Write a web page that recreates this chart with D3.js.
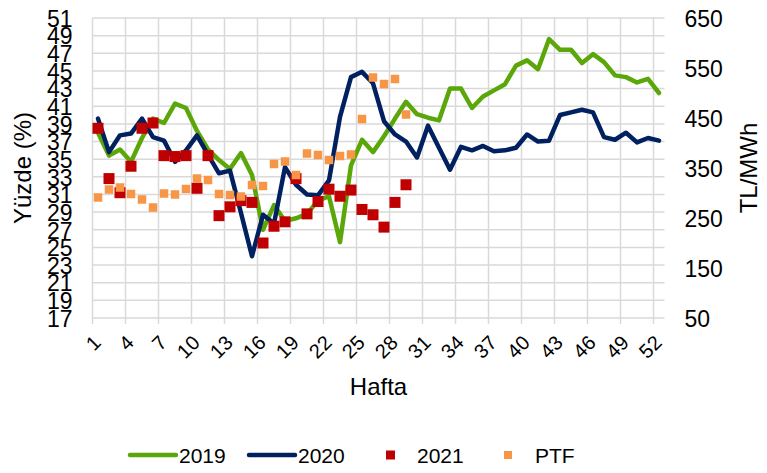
<!DOCTYPE html>
<html>
<head>
<meta charset="utf-8">
<script src="https://cdn.jsdelivr.net/npm/d3@7"></script>
<style>
    body { margin: 0; background: #ffffff; }
    text { font-family: "Liberation Sans", Arial, sans-serif; fill: #000000; }
</style>
</head>
<body>
<div id="chart"></div>
<script>

// data
// data

var weeks = d3.range(1, 53);

var values2019 = [38.0, 35.4, 36.1, 34.7, 37.4, 39.6, 39.1, 41.3, 40.8, 38.2,
                  36.1, 34.9, 33.9, 35.7, 33.2, 27.0, 29.8, 28.0, 28.3, 28.8,
                  30.3, 30.8, 25.6, 34.3, 37.2, 35.8, 37.6, 39.6, 41.5, 40.1,
                  39.7, 39.4, 43.0, 43.0, 40.8, 42.1, 42.8, 43.5, 45.6, 46.2,
                  45.2, 48.6, 47.4, 47.4, 45.9, 46.9, 46.0, 44.5, 44.3, 43.7,
                  44.1, 42.5];

var values2020 = [39.6, 35.8, 37.7, 37.9, 39.6, 37.5, 37.1, 34.7, 36.0, 37.7,
                  35.5, 33.4, 33.7, 28.9, 24.0, 28.7, 27.7, 34.1, 32.1, 31.0,
                  30.9, 32.6, 39.8, 44.3, 44.9, 43.6, 39.3, 37.8, 37.0, 35.2,
                  38.8, 36.3, 33.8, 36.4, 36.0, 36.5, 35.9, 36.0, 36.3, 37.8,
                  37.0, 37.1, 40.0, 40.3, 40.6, 40.3, 37.5, 37.2, 38.0, 36.9,
                  37.4, 37.1];

var values2021 = [38.5, 32.8, 31.2, 34.2, 38.5, 39.1, 35.4, 35.3, 35.4, 31.7,
                  35.4, 28.6, 29.6, 30.3, 30.1, 25.5, 27.4, 27.9, 32.8, 28.8,
                  30.2, 31.6, 30.8, 31.5, 29.3, 28.7, 27.3, 30.1, 32.1];

var valuesPTF = [291, 307, 311, 298, 287, 271, 299, 297, 308, 329,
                 326, 298, 296, 293, 316, 314, 358, 363, 336, 379,
                 376, 366, 374, 377, 448, 531, 518, 528, 457];

var leftTicks = d3.range(17, 52, 2);
var rightTicks = d3.range(50, 651, 100);
var weekTicks = d3.range(1, 53, 3);

var seriesNames = ["2019", "2020", "2021", "PTF"];
var colors = {"2019": "#5ba70a", "2020": "#002060", "2021": "#c00000", "PTF": "#f79646"};

// layout
// layout

var width = 767, height = 473;
var plot = {left: 92.5, right: 664.5, top: 18, bottom: 318};

var svg = d3.select("#chart").append("svg")
    .attr("width", width)
    .attr("height", height);

var x = d3.scaleBand()
    .domain(weeks)
    .range([plot.left, plot.right])
    .padding(0);

var yLeft = d3.scaleLinear().domain([17, 51]).range([plot.bottom, plot.top]);
var yRight = d3.scaleLinear().domain([50, 650]).range([plot.bottom, plot.top]);

function cx(w) { return x(w) + x.bandwidth() / 2; }

// gridlines
// gridlines

var grid = svg.append("g");

grid.selectAll("line.h")
    .data(leftTicks)
    .enter().append("line")
    .attr("x1", plot.left)
    .attr("x2", plot.right)
    .attr("y1", function(d) { return yLeft(d); })
    .attr("y2", function(d) { return yLeft(d); })
    .attr("stroke", "#d9d9d9")
    .attr("stroke-width", 1.5);

grid.selectAll("line.v")
    .data(weekTicks)
    .enter().append("line")
    .attr("x1", function(d) { return x(d); })
    .attr("x2", function(d) { return x(d); })
    .attr("y1", plot.top)
    .attr("y2", plot.bottom + 6)
    .attr("stroke", "#d9d9d9")
    .attr("stroke-width", 1.5);

// axes
// axes

var leftAxis = svg.append("g")
    .attr("transform", "translate(" + plot.left + ",0)")
    .call(d3.axisLeft(yLeft).tickValues(leftTicks).tickSize(0).tickPadding(20));
leftAxis.select(".domain").remove();
leftAxis.selectAll("text")
    .style("font-size", "23px")
    .attr("dy", "0.36em");

var rightAxis = svg.append("g")
    .attr("transform", "translate(" + plot.right + ",0)")
    .call(d3.axisRight(yRight).tickValues(rightTicks).tickSize(0).tickPadding(20));
rightAxis.select(".domain").remove();
rightAxis.selectAll("text")
    .style("font-size", "23px")
    .attr("dy", "0.36em");

svg.append("g")
    .selectAll("text")
    .data(weekTicks)
    .enter().append("text")
    .attr("transform", function(d) { return "translate(" + (cx(d) + 4) + ",344) rotate(-45)"; })
    .attr("text-anchor", "end")
    .style("font-size", "20px")
    .text(function(d) { return d; });

// axis titles
// axis titles

svg.append("text")
    .attr("transform", "translate(31," + ((plot.top + plot.bottom) / 2) + ") rotate(-90)")
    .attr("text-anchor", "middle")
    .style("font-size", "24px")
    .text("Yüzde (%)");

svg.append("text")
    .attr("transform", "translate(757," + ((plot.top + plot.bottom) / 2) + ") rotate(-90)")
    .attr("text-anchor", "middle")
    .style("font-size", "24px")
    .text("TL/MWh");

svg.append("text")
    .attr("x", (plot.left + plot.right) / 2)
    .attr("y", 395)
    .attr("text-anchor", "middle")
    .style("font-size", "24px")
    .text("Hafta");

// lines
// lines

var line = d3.line()
    .x(function(d, i) { return cx(weeks[i]); })
    .y(function(d) { return yLeft(d); });

svg.append("path")
    .datum(values2019)
    .attr("fill", "none")
    .attr("stroke", colors["2019"])
    .attr("stroke-width", 4.5)
    .attr("stroke-linejoin", "round")
    .attr("stroke-linecap", "round")
    .attr("d", line);

svg.append("path")
    .datum(values2020)
    .attr("fill", "none")
    .attr("stroke", colors["2020"])
    .attr("stroke-width", 4.5)
    .attr("stroke-linejoin", "round")
    .attr("stroke-linecap", "round")
    .attr("d", line);

// markers
// markers

var s21 = 11, sPtf = 8.5;

svg.append("g")
    .selectAll("rect")
    .data(values2021)
    .enter().append("rect")
    .attr("x", function(d, i) { return cx(weeks[i]) - s21 / 2; })
    .attr("y", function(d) { return yLeft(d) - s21 / 2; })
    .attr("width", s21)
    .attr("height", s21)
    .attr("fill", colors["2021"]);

svg.append("g")
    .selectAll("rect")
    .data(valuesPTF)
    .enter().append("rect")
    .attr("x", function(d, i) { return cx(weeks[i]) - sPtf / 2; })
    .attr("y", function(d) { return yRight(d) - sPtf / 2; })
    .attr("width", sPtf)
    .attr("height", sPtf)
    .attr("fill", colors["PTF"]);

// legend
// legend

var legendX = [128, 247, 366, 484];
var legendY = 455;

var legend = svg.append("g")
    .selectAll("g")
    .data(seriesNames)
    .enter().append("g")
    .attr("transform", function(d, i) { return "translate(" + legendX[i] + "," + legendY + ")"; });

legend.filter(function(d) { return d == "2019" || d == "2020"; })
    .append("line")
    .attr("x1", 2)
    .attr("x2", 48)
    .attr("stroke", function(d) { return colors[d]; })
    .attr("stroke-width", 4.5)
    .attr("stroke-linecap", "round");

legend.filter(function(d) { return d == "2021"; })
    .append("rect")
    .attr("x", 20).attr("y", -4.5)
    .attr("width", 9).attr("height", 9)
    .attr("fill", colors["2021"]);

legend.filter(function(d) { return d == "PTF"; })
    .append("rect")
    .attr("x", 20).attr("y", -4)
    .attr("width", 8).attr("height", 8)
    .attr("fill", colors["PTF"]);

legend.append("text")
    .attr("x", 51)
    .attr("dy", "0.36em")
    .style("font-size", "21px")
    .text(function(d) { return d; });

</script>
</body>
</html>
